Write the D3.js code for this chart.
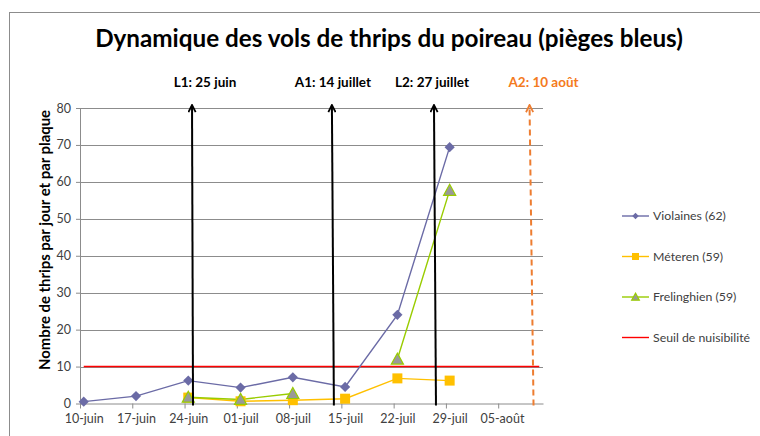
<!DOCTYPE html>
<html>
<head>
<meta charset="utf-8">
<script src="https://cdn.jsdelivr.net/npm/d3@7"></script>
<style>
  body { margin: 0; background: #fff; }
  svg { font-family: Lato, 'Open Sans', sans-serif; }
</style>
</head>
<body>
<div id="chart"></div>
<script>
// Data
var weeks = ['2010-06-10', '2010-06-17', '2010-06-24', '2010-07-01', '2010-07-08', '2010-07-15', '2010-07-22', '2010-07-29']
var tickDates = ['2010-06-10', '2010-06-17', '2010-06-24', '2010-07-01', '2010-07-08', '2010-07-15', '2010-07-22', '2010-07-29', '2010-08-05']
var tickLabels = ['10-juin', '17-juin', '24-juin', '01-juil', '08-juil', '15-juil', '22-juil', '29-juil', '05-août']
var violaines = [0.5, 2.0, 6.2, 4.3, 7.1, 4.5, 24.0, 69.4]
var meteren = [null, null, 1.6, 0.6, 0.9, 1.3, 6.8, 6.2]
var frelinghien = [null, null, 1.7, 1.1, 2.7, null, 12.0, 57.7]
var seuilDates = ['2010-06-10', '2010-08-10']
var seuilValues = [10, 10]
var seriesNames = ['Violaines (62)', 'Méteren (59)', 'Frelinghien (59)', 'Seuil de nuisibilité']
var yTicks = [0, 10, 20, 30, 40, 50, 60, 70, 80]
var eventLabels = ['L1: 25 juin', 'A1: 14 juillet', 'L2: 27 juillet', 'A2: 10 août']
var eventDates = ['2010-06-25', '2010-07-14', '2010-07-27', '2010-08-10']

var parse = d3.timeParse('%Y-%m-%d')

var margin = { top: 108, left: 80, right: 217, bottom: 32.5 }
var width = 760 - margin.left - margin.right
var height = 436 - margin.top - margin.bottom

var svg = d3.select('#chart')
  .append('svg')
  .attr('width', 760)
  .attr('height', 436)

// outer frame (only its top and left edges are in view)
svg.append('rect')
  .attr('x', 9.5)
  .attr('y', 12.5)
  .attr('width', 780)
  .attr('height', 440)
  .attr('fill', 'none')
  .attr('stroke', '#8c8c8c')

var g = svg.append('g')
  .attr('transform', `translate(${margin.left},${margin.top})`)

var xPositionScale = d3.scaleTime()
  .domain([parse('2010-06-10'), parse('2010-08-11')])
  .range([0, width])
var yPositionScale = d3.scaleLinear()
  .domain([0, 80])
  .range([height, 0])

// excel date axis: points sit in the middle of their day
function xMid(dateStr) {
  return xPositionScale(d3.timeHour.offset(parse(dateStr), 12))
}
var halfDay = xMid('2010-06-10') - xPositionScale(parse('2010-06-10'))

// grid
g.selectAll('.grid')
  .data(yTicks.slice(1))
  .enter()
  .append('line')
  .attr('class', 'grid')
  .attr('x1', 0)
  .attr('x2', width)
  .attr('y1', d => Math.round(yPositionScale(d)) + 0.5)
  .attr('y2', d => Math.round(yPositionScale(d)) + 0.5)
  .attr('stroke', '#8c8c8c')
  .attr('stroke-width', 1)

// axes
var yAxis = d3.axisLeft(yPositionScale).tickValues(yTicks).tickSize(4).tickSizeOuter(0)
var yg = g.append('g').attr('class', 'axis y-axis').call(yAxis)
yg.select('.domain').attr('stroke', '#8c8c8c')
yg.selectAll('.tick line').attr('stroke', '#8c8c8c')
yg.selectAll('.tick text')
  .attr('x', -9)
  .attr('fill', '#404040')
  .style('font-size', '12.5px')
  .style('font-family', 'Lato, sans-serif')

var xAxis = d3.axisBottom(xPositionScale)
  .tickValues(tickDates.map(parse))
  .tickFormat((d, i) => tickLabels[i])
  .tickSize(5)
  .tickSizeOuter(0)
var xg = g.append('g')
  .attr('class', 'axis x-axis')
  .attr('transform', 'translate(0,' + height + ')')
  .call(xAxis)
xg.select('.domain').attr('stroke', '#8c8c8c')
xg.selectAll('.tick line').attr('stroke', '#8c8c8c')
xg.selectAll('.tick text')
  .attr('x', halfDay)
  .attr('y', 11)
  .attr('fill', '#404040')
  .style('font-size', '12.5px')
  .style('font-family', 'Lato, sans-serif')

// threshold
var seuil = seuilDates.map((d, i) => ({ date: d, value: seuilValues[i] }))
var line = d3.line()
  .defined(d => d.value !== null)
  .x(d => xMid(d.date))
  .y(d => yPositionScale(d.value))

g.append('path')
  .datum(seuil)
  .attr('d', line)
  .attr('stroke', '#ff0000')
  .attr('stroke-width', 1.6)
  .attr('fill', 'none')

var series = [
  { name: seriesNames[0], values: violaines, color: '#6b6ba6', marker: 'diamond' },
  { name: seriesNames[1], values: meteren, color: '#ffc000', marker: 'square' },
  { name: seriesNames[2], values: frelinghien, color: '#99cc00', marker: 'triangle' }
]

function drawMarker(sel, type, color, size) {
  if (type === 'diamond') {
    sel.append('path')
      .attr('d', d3.symbol(d3.symbolDiamond2, size * size * 0.55)())
      .attr('fill', color)
  } else if (type === 'square') {
    sel.append('rect')
      .attr('x', -size / 2)
      .attr('y', -size / 2)
      .attr('width', size)
      .attr('height', size)
      .attr('fill', color)
  } else {
    sel.append('path')
      .attr('d', `M0,${-size * 0.55}L${size * 0.55},${size * 0.45}L${-size * 0.55},${size * 0.45}Z`)
      .attr('fill', '#999999')
      .attr('stroke', color)
      .attr('stroke-width', 1.2)
  }
}

series.forEach(function(s) {
  var pts = weeks.map((d, i) => ({ date: d, value: s.values[i] }))
  g.append('path')
    .datum(pts)
    .attr('d', line)
    .attr('stroke', s.color)
    .attr('stroke-width', 1.4)
    .attr('fill', 'none')
})

series.forEach(function(s) {
  var pts = weeks.map((d, i) => ({ date: d, value: s.values[i] })).filter(d => d.value !== null)
  g.selectAll('.m-' + s.marker)
    .data(pts)
    .enter()
    .append('g')
    .attr('class', 'm-' + s.marker)
    .attr('transform', d => `translate(${xMid(d.date)},${yPositionScale(d.value)})`)
    .each(function() {
      drawMarker(d3.select(this), s.marker, s.color, s.marker === 'square' ? 10 : 11)
    })
})

// event arrows (hand-drawn in the original, slightly slanted)
var defs = svg.append('defs')
;[['arrow-black', '#000'], ['arrow-orange', '#ed7d31']].forEach(function(a) {
  defs.append('marker')
    .attr('id', a[0])
    .attr('viewBox', '0 0 10 10')
    .attr('refX', 9)
    .attr('refY', 5)
    .attr('markerWidth', 9)
    .attr('markerHeight', 9)
    .attr('markerUnits', 'userSpaceOnUse')
    .attr('orient', 'auto')
    .append('path')
    .attr('d', 'M1,1L9,5L1,9')
    .attr('fill', 'none')
    .attr('stroke', a[1])
    .attr('stroke-width', 2)
})

var arrowNudge = [[0, 1], [-2, 0], [3, 5], [-6, -2]]
var labelNudge = [13, -1, 1, 8]

eventDates.forEach(function(d, i) {
  var xd = xPositionScale(parse(d))
  var last = i === eventDates.length - 1
  var color = last ? '#ed7d31' : '#000'
  g.append('line')
    .attr('x1', xd + arrowNudge[i][1])
    .attr('y1', height + 2)
    .attr('x2', xd + arrowNudge[i][0])
    .attr('y2', -3)
    .attr('stroke', color)
    .attr('stroke-width', 2)
    .attr('stroke-dasharray', last ? '6,4' : null)
    .attr('marker-end', `url(#${last ? 'arrow-orange' : 'arrow-black'})`)

  g.append('text')
    .attr('x', xd + labelNudge[i])
    .attr('y', -21)
    .attr('text-anchor', 'middle')
    .attr('fill', last ? '#f47a20' : '#000')
    .style('font-size', '13.5px')
    .style('font-weight', 'bold')
    .text(eventLabels[i])
})

// title
var title = svg.append('text')
  .attr('x', 389)
  .attr('y', 47)
  .attr('text-anchor', 'middle')
  .attr('fill', '#000')
  .style('font-size', '22px')
  .style('font-weight', 'bold')
  .text('Dynamique des vols de thrips du poireau (pièges bleus)')
var tw = title.node().getComputedTextLength()
title.style('font-size', (22 * 588 / tw) + 'px')

// y axis title
var yTitle = svg.append('text')
  .attr('transform', 'translate(50,240) rotate(-90)')
  .attr('text-anchor', 'middle')
  .attr('fill', '#000')
  .style('font-size', '13px')
  .style('font-weight', 'bold')
  .text('Nombre de thrips par jour et par plaque')
var yw = yTitle.node().getComputedTextLength()
yTitle.style('font-size', (13 * 260 / yw) + 'px')

// legend
var legendItems = series.concat([{ name: seriesNames[3], color: '#ff0000', marker: null }])
var legend = svg.append('g').attr('transform', 'translate(622,216)')
legendItems.forEach(function(s, i) {
  var lg = legend.append('g').attr('transform', `translate(0,${i * 40.5})`)
  lg.append('line')
    .attr('x1', 0).attr('x2', 27)
    .attr('y1', 0).attr('y2', 0)
    .attr('stroke', s.color)
    .attr('stroke-width', 1.4)
  if (s.marker) {
    var mg = lg.append('g').attr('transform', 'translate(13.5,0)')
    drawMarker(mg, s.marker, s.color, 7)
  }
  lg.append('text')
    .attr('x', 31)
    .attr('y', 4)
    .attr('fill', '#404040')
    .style('font-size', '12.3px')
    .text(s.name)
})
</script>
</body>
</html>
